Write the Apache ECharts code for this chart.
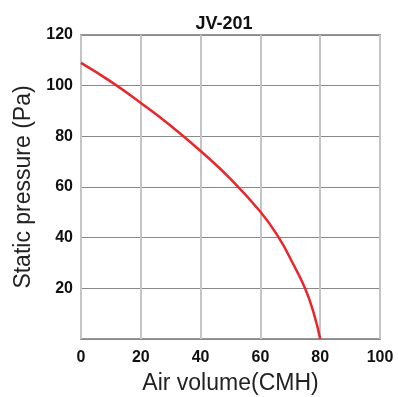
<!DOCTYPE html>
<html><head><meta charset="utf-8">
<script src="https://cdn.jsdelivr.net/npm/echarts@6/dist/echarts.min.js"></script>
<style>html,body{margin:0;padding:0;background:#fff}#c{width:398px;height:397px}</style>
</head><body><div id="c"></div>
<script>
const title = "JV-201";
const xName = "Air volume(CMH)";
const yName = "Static pressure (Pa)";
const airVolume = [0, 10, 20, 30, 40, 50, 60, 66, 71, 75, 78, 80];
const pressure = [109, 101.6, 93.2, 84.2, 74.2, 63.2, 50.2, 40.3, 29.5, 19.8, 9.5, 0];

const chart = echarts.init(document.getElementById('c'), null, {renderer: 'canvas'});
const font = 'Liberation Sans, Arial, sans-serif';
chart.setOption({
  animation: false,
  title: {text: title, left: 219, top: 10, textAlign: 'center',
    textStyle: {fontFamily: font, fontSize: 18, fontWeight: 'bold', color: '#111'}},
  grid: {left: 81, right: 18, top: 35, bottom: 58, show: true, borderColor: '#999', borderWidth: 2,
    outerBoundsMode: 'none', containLabel: false},
  xAxis: {type: 'value', min: 0, max: 100, interval: 20,
    name: xName, nameLocation: 'middle', nameGap: 33,
    nameTextStyle: {fontFamily: font, fontSize: 23, color: '#222'},
    axisLine: {show: false}, axisTick: {show: false},
    axisLabel: {margin: 11, fontFamily: font, fontSize: 16, fontWeight: 'bold', color: '#111'},
    splitLine: {show: true, lineStyle: {color: '#c4c4c4', width: 2}}},
  yAxis: {type: 'value', min: 0, max: 120, interval: 20,
    name: yName, nameLocation: 'middle', nameGap: 41,
    nameTextStyle: {fontFamily: font, fontSize: 23, color: '#222'},
    axisLine: {show: false}, axisTick: {show: false},
    axisLabel: {margin: 8, fontFamily: font, fontSize: 16, fontWeight: 'bold', color: '#111',
      formatter: v => v === 0 ? '' : String(v)},
    splitLine: {show: true, lineStyle: {color: '#888', width: 1}}},
  series: [{type: 'line', smooth: 0.5, showSymbol: false,
    data: airVolume.map((x, i) => [x, pressure[i]]),
    lineStyle: {color: '#e8262b', width: 2.5}}]
});
</script></body></html>
